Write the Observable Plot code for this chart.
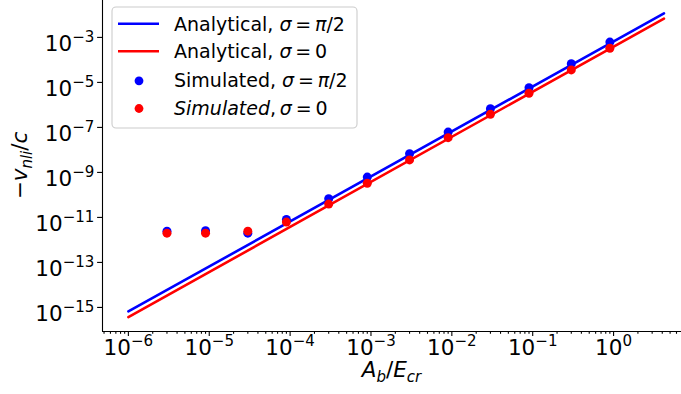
<!DOCTYPE html>
<html><head><meta charset="utf-8">
<script src="https://cdn.jsdelivr.net/npm/d3@7"></script>
<script src="https://cdn.jsdelivr.net/npm/@observablehq/plot@0.6"></script>
<style>html,body{margin:0;padding:0;background:#fff}svg{display:block}</style>
</head><body><div id="chart"></div>
<script>
// ---- data ----
const simX = [3e-6, 9e-6, 3e-5, 9e-5, 3e-4, 9e-4, 3e-3, 9e-3, 3e-2, 9e-2, 3e-1, 9e-1];
const simBlue = [2.45e-12, 2.57e-12, 2.0e-12, 8.1e-12, 6.8e-11, 6.2e-10, 6.8e-9, 6.2e-8, 6.8e-7, 5.8e-6, 6.8e-5, 6.2e-4];
const simRed = [2.0e-12, 2.0e-12, 2.45e-12, 6.2e-12, 3.9e-11, 3.3e-10, 3.6e-9, 3.5e-8, 3.8e-7, 3.3e-6, 3.6e-5, 3.3e-4];
const lineX = [1e-6, 4.2];
const lineBlue = [6.6e-16, 1.17e-2];
const lineRed = [3.7e-16, 6.9e-3];
const xTickExps = [-6, -5, -4, -3, -2, -1, 0];
const yTickExps = [-15, -13, -11, -9, -7, -5, -3];
const legendLabels = ["Analytical, σ = π/2", "Analytical, σ = 0", "Simulated, σ = π/2", "Simulated, σ = 0"];
const legendAllMath = [false, false, false, true];
const legendKinds = ["line", "line", "dot", "dot"];
const legendColors = ["#0000ff", "#ff0000", "#0000ff", "#ff0000"];

// ---- layout ----
const W = 681, H = 394, ML = 102, MB = 63;
const FS = 21.5, LFS = 19;
const xDomain = [10 ** -6.32, 10 ** 0.84];
const yDomain = [10 ** -16.07, 10 ** -1.36];
const minorX = [];
for (let k = -7; k <= 0; k++) for (let m = 2; m <= 9; m++) {
  const v = m * 10 ** k;
  if (v > xDomain[0] && v < xDomain[1]) minorX.push(v);
}
const zip = (xs, ys) => xs.map((x, i) => ({x, y: ys[i]}));
const expFmt = d => String(Math.round(Math.log10(d)));

const chart = Plot.plot({
  width: W, height: H,
  marginLeft: ML, marginRight: 0, marginTop: 0, marginBottom: MB,
  style: {fontFamily: "DejaVu Sans", fontSize: FS + "px", color: "black", background: "white", overflow: "visible"},
  x: {type: "log", domain: xDomain},
  y: {type: "log", domain: yDomain},
  marks: [
    Plot.axisX({ticks: minorX, tickSize: 2.8, tickFormat: () => "", strokeWidth: 1.1, label: null, ariaLabel: "xminor"}),
    Plot.axisX({ticks: xTickExps.map(e => 10 ** e), tickSize: 4.9, tickPadding: 3.3, tickFormat: expFmt, label: null, strokeWidth: 1.1, fontSize: FS}),
    Plot.axisY({ticks: yTickExps.map(e => 10 ** e), tickSize: 4.9, tickPadding: 3.2, tickFormat: expFmt, label: null, strokeWidth: 1.1, fontSize: FS}),
    Plot.ruleX([xDomain[0]], {stroke: "black", strokeWidth: 1.1}),
    Plot.ruleY([yDomain[0]], {stroke: "black", strokeWidth: 1.1}),
    Plot.line(zip(lineX, lineBlue), {x: "x", y: "y", stroke: "#0000ff", strokeWidth: 2.6}),
    Plot.line(zip(lineX, lineRed), {x: "x", y: "y", stroke: "#ff0000", strokeWidth: 2.6}),
    Plot.dot(zip(simX, simBlue), {x: "x", y: "y", r: 4.5, fill: "#0000ff"}),
    Plot.dot(zip(simX, simRed), {x: "x", y: "y", r: 4.5, fill: "#ff0000"})
  ]
});
document.getElementById("chart").append(chart);
const svg = d3.select(chart);

// tick labels as 10^n with superscripts
svg.selectAll('g[aria-label="x-axis tick label"] text, g[aria-label="y-axis tick label"] text').each(function () {
  const e = this.textContent;
  if (!e) return;
  const t = d3.select(this);
  t.text(null);
  t.append("tspan").text("10");
  t.append("tspan").attr("dy", -0.42 * FS).attr("font-size", 0.7 * FS).text(e.replace("-", "\u2212"));
});
svg.selectAll('g[aria-label="y-axis tick label"] text').attr("dy", "0.32em");

// helper: write runs [text, italic, shift, scale]
function runs(sel, parts, size) {
  let cur = 0;
  for (const [txt, it, shift, scale] of parts) {
    const ts = sel.append("tspan").text(txt).attr("font-style", it ? "italic" : "normal");
    const sh = shift || 0;
    if (sh !== cur) { ts.attr("dy", sh - cur); cur = sh; }
    if (scale) ts.attr("font-size", size * scale);
  }
}

// axis labels
const xl = svg.append("text").attr("x", (ML + W) / 2).attr("y", 377).attr("text-anchor", "middle")
  .attr("font-size", FS).attr("font-family", "DejaVu Sans");
runs(xl, [["A", true], ["b", true, 0.22 * FS, 0.7], ["/", false, 0], ["E", true, 0], ["cr", true, 0.22 * FS, 0.7]], FS);

const yl = svg.append("text").attr("transform", `translate(27,${(H - MB) / 2}) rotate(-90)`).attr("text-anchor", "middle")
  .attr("font-size", FS).attr("font-family", "DejaVu Sans");
runs(yl, [["\u2212", false], ["v", true], ["nli", true, 0.22 * FS, 0.7], ["/", false, 0], ["c", true, 0]], FS);

// legend
const lg = svg.append("g").attr("font-family", "DejaVu Sans").attr("font-size", LFS).attr("text-anchor", "start");
lg.append("rect").attr("x", 112).attr("y", 7).attr("width", 245).attr("height", 121).attr("rx", 4)
  .attr("fill", "white").attr("fill-opacity", 0.8).attr("stroke", "#cccccc").attr("stroke-width", 1.1);
const rowBase = [30.7, 58.3, 87.3, 115];
legendLabels.forEach((lab, i) => {
  const cy = rowBase[i] - 7;
  if (legendKinds[i] === "line") {
    lg.append("line").attr("x1", 118).attr("x2", 159).attr("y1", cy).attr("y2", cy)
      .attr("stroke", legendColors[i]).attr("stroke-width", 2.6);
  } else {
    lg.append("circle").attr("cx", 139).attr("cy", cy + 0.5).attr("r", 4.4).attr("fill", legendColors[i]);
  }
  const t = lg.append("text").attr("x", 174).attr("y", rowBase[i]);
  const cut = legendAllMath[i] ? 0 : lab.indexOf(", ") + 2;
  const plain = lab.slice(0, cut), math = lab.slice(cut).replace(/ /g, "\u2009");
  const parts = [];
  if (plain) parts.push([plain, false]);
  for (const m of math.match(/[A-Za-zσπ]+|[^A-Za-zσπ]+/g)) parts.push([m, /[A-Za-zσπ]/.test(m)]);
  runs(t, parts, LFS);
});
</script></body></html>
